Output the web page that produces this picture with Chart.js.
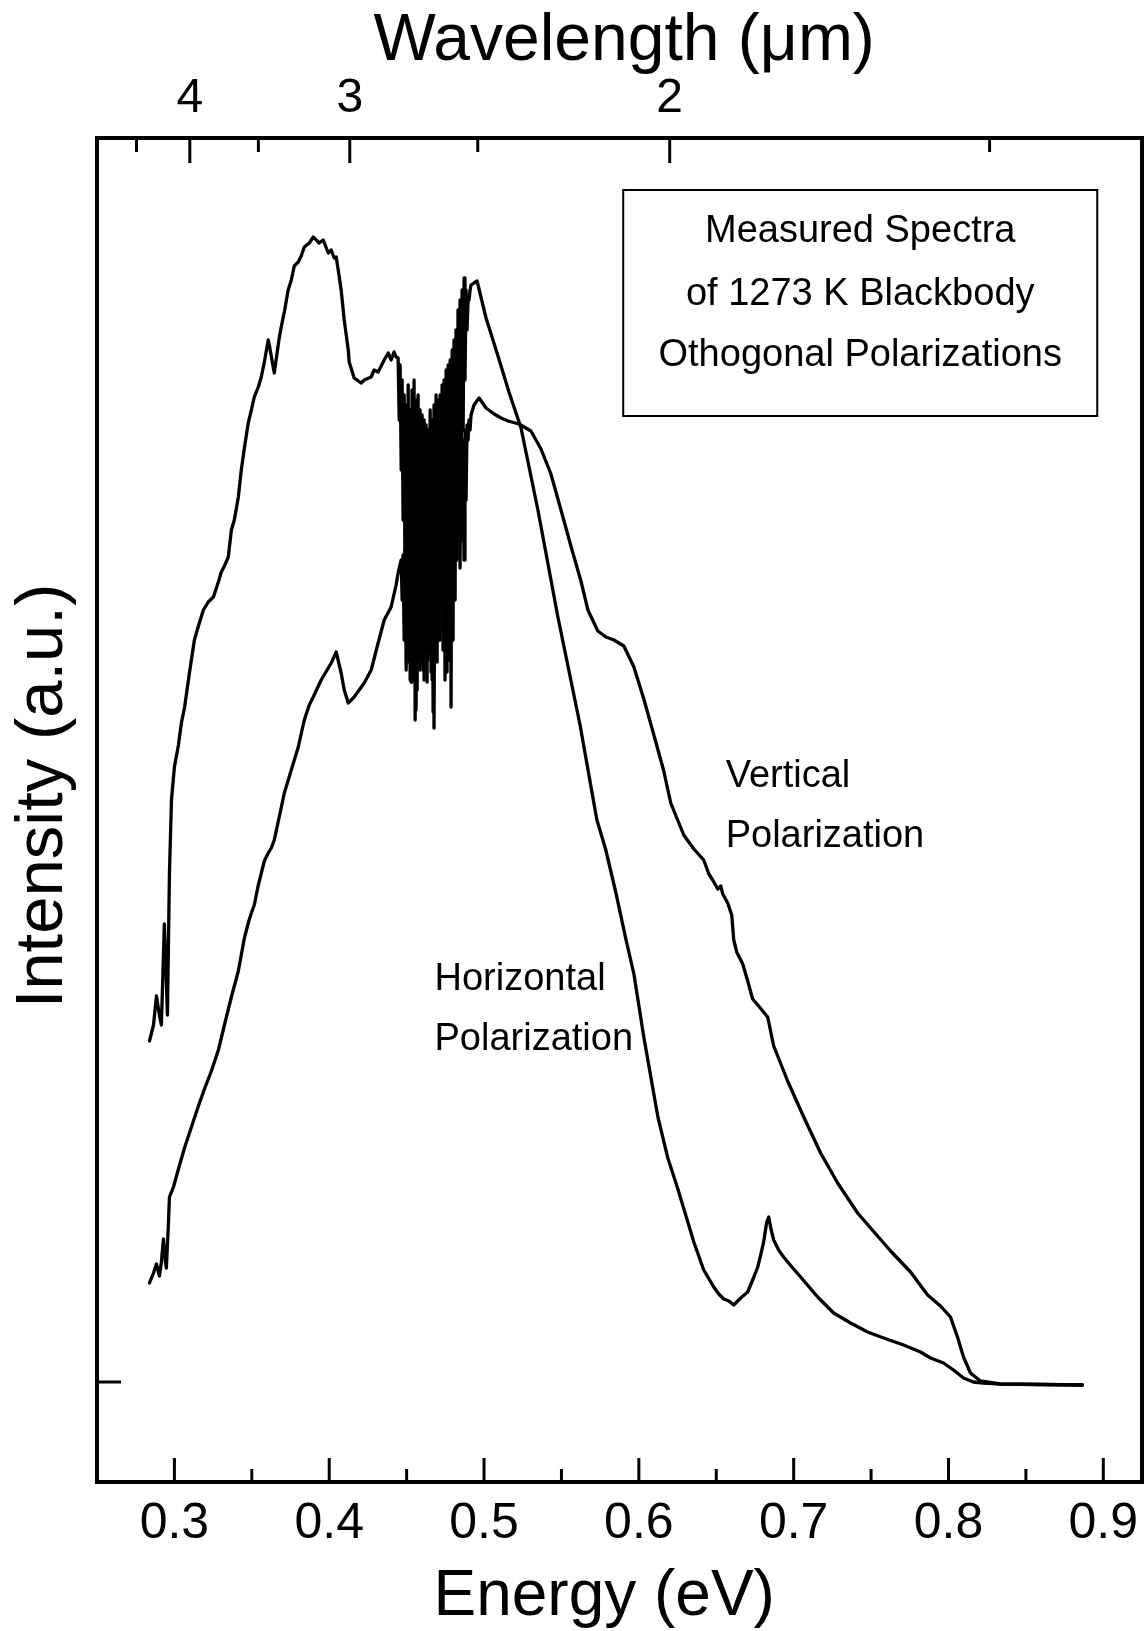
<!DOCTYPE html>
<html>
<head>
<meta charset="utf-8">
<script src="https://cdn.jsdelivr.net/npm/chart.js@4.4.1/dist/chart.umd.min.js"></script>
<style>
	html, body { margin: 0; padding: 0; background: #fff; }
	#wrap { width: 1146px; height: 1631px; }
</style>
</head>
<body>
<div id="wrap"><canvas id="spectra" width="1146" height="1631"></canvas></div>
<script>
const FONT = "'Liberation Sans', Arial, Helvetica, sans-serif";
const HC = 1.23984; // eV * um, for the wavelength axis

// energy axis (eV)
const ENERGY_TICKS = [0.3, 0.4, 0.5, 0.6, 0.7, 0.8, 0.9];
const ENERGY_MINOR = [0.35, 0.45, 0.55, 0.65, 0.75, 0.85];
// wavelength axis (um)
const WAVELENGTH_TICKS = [4, 3, 2];
const WAVELENGTH_MINOR = [4.5, 3.5, 2.5, 1.5];

// [energy eV, intensity a.u.]
const horizontal = [
	[0.2839, 3.41], [0.2865, 3.57], [0.2884, 3.86], [0.2903, 3.67], [0.2916, 3.57], [0.2935, 4.58], [0.2942, 4.27],
	[0.2955, 3.67], [0.2968, 5.09], [0.2981, 5.82], [0.3000, 6.15], [0.3026, 6.37], [0.3045, 6.59], [0.3065, 6.74],
	[0.3097, 7.09], [0.3129, 7.42], [0.3155, 7.56], [0.3187, 7.72], [0.3219, 7.80], [0.3252, 7.85], [0.3284, 8.00],
	[0.3303, 8.10], [0.3323, 8.16], [0.3348, 8.25], [0.3368, 8.52], [0.3387, 8.62], [0.3413, 8.85], [0.3432, 9.12],
	[0.3452, 9.34], [0.3477, 9.59], [0.3497, 9.72], [0.3516, 9.85], [0.3542, 9.95], [0.3561, 10.05], [0.3581, 10.20],
	[0.3606, 10.42], [0.3613, 10.37], [0.3645, 10.09], [0.3677, 10.44], [0.3690, 10.55], [0.3710, 10.70], [0.3735, 10.92],
	[0.3755, 11.02], [0.3774, 11.16], [0.3800, 11.20], [0.3819, 11.26], [0.3839, 11.35], [0.3871, 11.39], [0.3897, 11.45],
	[0.3935, 11.39], [0.3961, 11.42], [0.3994, 11.29], [0.4013, 11.32], [0.4032, 11.24], [0.4045, 11.25], [0.4065, 11.05],
	[0.4077, 10.92], [0.4097, 10.62], [0.4123, 10.32], [0.4129, 10.20], [0.4161, 10.04], [0.4206, 9.99], [0.4226, 10.02],
	[0.4271, 10.05], [0.4290, 10.12], [0.4316, 10.10], [0.4355, 10.22], [0.4381, 10.29], [0.4400, 10.22], [0.4419, 10.30],
	[0.4432, 10.25],
	// absorption band
	[0.4445, 10.24], [0.4452, 9.62], [0.4458, 10.17], [0.4465, 9.12], [0.4471, 10.02], [0.4477, 8.62], [0.4484, 9.87],
	[0.4490, 7.82], [0.4497, 9.77], [0.4503, 7.42], [0.4510, 9.97], [0.4516, 7.20], [0.4523, 9.72], [0.4529, 7.00],
	[0.4535, 9.92], [0.4542, 7.32], [0.4548, 10.02], [0.4555, 6.62], [0.4561, 9.82], [0.4568, 6.92], [0.4574, 9.87],
	[0.4581, 7.42], [0.4587, 9.72], [0.4594, 7.82], [0.4600, 9.67], [0.4606, 7.12], [0.4613, 9.62], [0.4619, 7.32],
	[0.4626, 9.57], [0.4632, 7.00], [0.4639, 9.52], [0.4645, 7.30], [0.4652, 9.72], [0.4658, 7.10], [0.4665, 9.62],
	[0.4671, 6.70], [0.4677, 9.77], [0.4684, 7.32], [0.4690, 9.87], [0.4697, 7.20], [0.4703, 9.82], [0.4710, 7.42],
	[0.4716, 9.87], [0.4723, 7.82], [0.4729, 9.97], [0.4735, 7.32], [0.4742, 10.02], [0.4748, 7.02], [0.4755, 10.12],
	[0.4761, 7.10], [0.4768, 10.17], [0.4774, 7.22], [0.4781, 10.22], [0.4787, 6.75], [0.4794, 10.32], [0.4800, 7.42],
	[0.4806, 10.42], [0.4813, 7.82], [0.4819, 10.52], [0.4826, 8.22], [0.4832, 10.72], [0.4839, 8.62], [0.4845, 10.82],
	[0.4852, 9.12], [0.4858, 10.92], [0.4865, 9.52], [0.4871, 11.04], [0.4877, 10.02], [0.4884, 10.92], [0.4890, 10.52],
	[0.4897, 10.82], [0.4903, 10.82], [0.4910, 10.92], [0.4916, 10.97],
	[0.4935, 10.99], [0.4955, 11.01], [0.5013, 10.64], [0.5090, 10.26], [0.5161, 9.90], [0.5239, 9.54], [0.5348, 8.72],
	[0.5477, 7.65], [0.5619, 6.58], [0.5729, 5.62], [0.5785, 5.33], [0.5852, 4.89], [0.5916, 4.43], [0.5968, 4.08],
	[0.6032, 3.45], [0.6123, 2.65], [0.6187, 2.24], [0.6252, 1.93], [0.6355, 1.40], [0.6419, 1.12], [0.6484, 0.95],
	[0.6516, 0.88], [0.6548, 0.83], [0.6581, 0.81], [0.6613, 0.77], [0.6658, 0.84], [0.6703, 0.90], [0.6735, 1.02],
	[0.6768, 1.15], [0.6787, 1.27], [0.6806, 1.40], [0.6826, 1.60], [0.6839, 1.65], [0.6852, 1.54], [0.6871, 1.42],
	[0.6903, 1.32], [0.6935, 1.25], [0.6994, 1.14], [0.7045, 1.05], [0.7155, 0.85], [0.7258, 0.69], [0.7368, 0.59],
	[0.7477, 0.50], [0.7581, 0.44], [0.7710, 0.37], [0.7819, 0.30], [0.7884, 0.24], [0.7968, 0.19], [0.8032, 0.12],
	[0.8097, 0.04], [0.8161, 0.00], [0.8226, -0.01], [0.8335, -0.02], [0.8865, -0.03],
];

const vertical = [
	[0.2839, 0.99], [0.2865, 1.09], [0.2884, 1.18], [0.2903, 1.06], [0.2916, 1.20], [0.2929, 1.43], [0.2942, 1.20],
	[0.2948, 1.14], [0.2961, 1.57], [0.2968, 1.85], [0.2994, 1.95], [0.3026, 2.13], [0.3065, 2.34], [0.3110, 2.55],
	[0.3155, 2.76], [0.3194, 2.93], [0.3239, 3.11], [0.3284, 3.32], [0.3323, 3.57], [0.3368, 3.85], [0.3413, 4.11],
	[0.3452, 4.44], [0.3477, 4.59], [0.3497, 4.69], [0.3516, 4.77], [0.3542, 4.97], [0.3581, 5.21], [0.3606, 5.29],
	[0.3626, 5.34], [0.3645, 5.42], [0.3677, 5.65], [0.3710, 5.89], [0.3755, 6.12], [0.3800, 6.35], [0.3839, 6.62],
	[0.3871, 6.77], [0.3897, 6.85], [0.3948, 7.02], [0.3994, 7.14], [0.4013, 7.19], [0.4045, 7.30], [0.4077, 7.09],
	[0.4097, 6.92], [0.4123, 6.79], [0.4161, 6.85], [0.4226, 6.99], [0.4271, 7.12], [0.4316, 7.39], [0.4355, 7.62],
	[0.4400, 7.75], [0.4432, 7.97], [0.4445, 8.09],
	// absorption band
	[0.4465, 8.22], [0.4471, 7.82], [0.4477, 8.27], [0.4484, 7.42], [0.4490, 8.32], [0.4497, 7.12], [0.4503, 8.22],
	[0.4510, 7.32], [0.4516, 8.37], [0.4523, 7.02], [0.4529, 8.27], [0.4535, 7.00], [0.4542, 8.22], [0.4548, 7.02],
	[0.4555, 8.42], [0.4561, 6.72], [0.4568, 8.22], [0.4574, 7.42], [0.4581, 8.42], [0.4587, 7.12], [0.4594, 8.32],
	[0.4600, 7.22], [0.4606, 8.52], [0.4613, 7.02], [0.4619, 8.42], [0.4626, 7.42], [0.4632, 8.62], [0.4639, 7.22],
	[0.4645, 8.72], [0.4652, 7.62], [0.4658, 8.82], [0.4665, 7.02], [0.4671, 8.62], [0.4677, 6.54], [0.4684, 8.82],
	[0.4690, 7.22], [0.4697, 8.92], [0.4703, 7.82], [0.4710, 9.02], [0.4716, 7.42], [0.4723, 9.12], [0.4729, 8.02],
	[0.4735, 9.12], [0.4742, 7.62], [0.4748, 9.22], [0.4755, 8.22], [0.4761, 9.27], [0.4768, 7.82], [0.4774, 9.32],
	[0.4781, 8.42], [0.4787, 9.37], [0.4794, 8.02], [0.4800, 9.42], [0.4806, 8.62], [0.4813, 9.37], [0.4819, 8.22],
	[0.4826, 9.42], [0.4832, 8.62], [0.4839, 9.47], [0.4845, 8.14], [0.4852, 9.52], [0.4858, 8.42], [0.4865, 9.42],
	[0.4871, 8.22], [0.4877, 9.52], [0.4884, 8.82], [0.4890, 9.57], [0.4897, 9.42], [0.4903, 9.62], [0.4910, 9.52],
	[0.4916, 9.67],
	[0.4935, 9.77], [0.4968, 9.84], [0.5013, 9.74], [0.5065, 9.68], [0.5110, 9.64], [0.5155, 9.61], [0.5226, 9.58],
	[0.5303, 9.51], [0.5368, 9.33], [0.5432, 9.08], [0.5497, 8.72], [0.5561, 8.36], [0.5626, 8.01], [0.5671, 7.72],
	[0.5735, 7.51], [0.5787, 7.45], [0.5839, 7.42], [0.5903, 7.36], [0.5968, 7.15], [0.6032, 6.83], [0.6097, 6.47],
	[0.6161, 6.11], [0.6206, 5.79], [0.6290, 5.47], [0.6355, 5.33], [0.6419, 5.22], [0.6452, 5.08], [0.6477, 5.02],
	[0.6510, 4.93], [0.6529, 4.96], [0.6542, 4.88], [0.6574, 4.79], [0.6600, 4.67], [0.6613, 4.42], [0.6626, 4.34],
	[0.6632, 4.30], [0.6671, 4.18], [0.6703, 4.01], [0.6735, 3.83], [0.6774, 3.76], [0.6832, 3.65], [0.6871, 3.36],
	[0.6961, 3.01], [0.7065, 2.65], [0.7174, 2.29], [0.7284, 1.99], [0.7413, 1.69], [0.7497, 1.54], [0.7626, 1.31],
	[0.7755, 1.10], [0.7865, 0.87], [0.7948, 0.76], [0.8013, 0.65], [0.8058, 0.45], [0.8097, 0.25], [0.8142, 0.09],
	[0.8206, 0.01], [0.8335, -0.02], [0.8865, -0.03],
];

// axis titles: text and where along the axis their centre sits
const X_TITLE = ["Energy (eV)", 0.5776];
const TOP_TITLE = ["Wavelength (\u03bcm)", 0.5905];
const Y_TITLE = ["Intensity (a.u.)", 5.86];

// text placed in data coordinates
const BOX = { x0: 0.5899, x1: 0.8961, y0: 11.92, y1: 9.66, cx: 0.743 };
const BOX_LINES = [
	["Measured Spectra", 11.40],
	["of 1273 K Blackbody", 10.77],
	["Othogonal Polarizations", 10.16],
];
const CURVE_LABELS = [
	["Vertical", 0.6561, 5.95],
	["Polarization", 0.6561, 5.35],
	["Horizontal", 0.468, 3.92],
	["Polarization", 0.468, 3.32],
];

// frame, inward ticks and text
const frame = {
	id: "frame",
	afterDraw(chart) {
		const {
			ctx,
			chartArea: { left, right, top, bottom },
			scales: { x, y },
		} = chart;
		ctx.save();
		ctx.strokeStyle = "#000";
		ctx.fillStyle = "#000";
		ctx.lineWidth = 3;
		const vtick = (px, y0, len) => {
			ctx.beginPath();
			ctx.moveTo(px, y0);
			ctx.lineTo(px, y0 + len);
			ctx.stroke();
		};
		ENERGY_TICKS.forEach((e) => vtick(x.getPixelForValue(e), bottom, -24));
		ENERGY_MINOR.forEach((e) => vtick(x.getPixelForValue(e), bottom, -13));
		WAVELENGTH_TICKS.forEach((l) => vtick(x.getPixelForValue(HC / l), top, 25));
		WAVELENGTH_MINOR.forEach((l) => vtick(x.getPixelForValue(HC / l), top, 14));
		const yz = y.getPixelForValue(0);
		ctx.beginPath();
		ctx.moveTo(left, yz);
		ctx.lineTo(left + 24, yz);
		ctx.stroke();

		ctx.lineWidth = 4;
		ctx.strokeRect(left, top, right - left, bottom - top);

		// axis titles
		ctx.textAlign = "center";
		ctx.textBaseline = "middle";
		ctx.font = `64px ${FONT}`;
		ctx.fillText(X_TITLE[0], x.getPixelForValue(X_TITLE[1]), chart.height - 34);
		ctx.font = `66px ${FONT}`;
		ctx.fillText(TOP_TITLE[0], x.getPixelForValue(TOP_TITLE[1]), 42);
		ctx.save();
		ctx.translate(y.left + 44, y.getPixelForValue(Y_TITLE[1]));
		ctx.rotate(-Math.PI / 2);
		ctx.font = `67px ${FONT}`;
		ctx.fillText(Y_TITLE[0], 0, 0);
		ctx.restore();

		// legend box
		ctx.lineWidth = 2;
		const bx0 = x.getPixelForValue(BOX.x0),
			bx1 = x.getPixelForValue(BOX.x1),
			by0 = y.getPixelForValue(BOX.y0),
			by1 = y.getPixelForValue(BOX.y1);
		ctx.strokeRect(bx0, by0, bx1 - bx0, by1 - by0);
		ctx.font = `38px ${FONT}`;
		ctx.textBaseline = "alphabetic";
		BOX_LINES.forEach(([t, v]) => ctx.fillText(t, x.getPixelForValue(BOX.cx), y.getPixelForValue(v)));

		ctx.font = `38px ${FONT}`;
		ctx.textAlign = "left";
		CURVE_LABELS.forEach(([t, e, v]) => ctx.fillText(t, x.getPixelForValue(e), y.getPixelForValue(v)));
		ctx.restore();
	},
};

const lineStyle = {
	borderColor: "#000",
	borderWidth: 3.3,
	pointRadius: 0,
	fill: false,
	tension: 0,
	borderJoinStyle: "round",
	borderCapStyle: "round",
};

new Chart(document.getElementById("spectra"), {
	type: "line",
	data: {
		datasets: [
			{ label: "Horizontal Polarization", data: horizontal.map(([e, v]) => ({ x: e, y: v })), ...lineStyle },
			{ label: "Vertical Polarization", data: vertical.map(([e, v]) => ({ x: e, y: v })), ...lineStyle },
		],
	},
	plugins: [frame],
	options: {
		responsive: false,
		animation: false,
		devicePixelRatio: 1,
		layout: { padding: { left: 0, right: 4, top: 0, bottom: 0 } },
		plugins: { legend: { display: false }, tooltip: { enabled: false } },
		scales: {
			x: {
				type: "linear",
				position: "bottom",
				min: 0.25,
				max: 0.925,
				afterBuildTicks: (s) => {
					s.ticks = ENERGY_TICKS.map((v) => ({ value: v }));
				},
				afterFit: (s) => {
					s.height = 149;
					s.paddingLeft = 0;
					s.paddingRight = 0;
				},
				grid: { display: false, drawTicks: false },
				border: { display: false },
				ticks: {
					color: "#000",
					font: { family: FONT, size: 50 },
					padding: 12,
					maxRotation: 0,
					autoSkip: false,
					callback: (v) => v.toFixed(1),
				},
			},
			x2: {
				type: "linear",
				position: "top",
				min: 0.25,
				max: 0.925,
				afterBuildTicks: (s) => {
					s.ticks = WAVELENGTH_TICKS.map((l) => ({ value: HC / l }));
				},
				afterFit: (s) => {
					s.height = 138;
					s.paddingLeft = 0;
					s.paddingRight = 0;
				},
				grid: { display: false, drawTicks: false },
				border: { display: false },
				ticks: {
					color: "#000",
					font: { family: FONT, size: 48 },
					padding: 10,
					maxRotation: 0,
					autoSkip: false,
					callback: (v, i) => String(WAVELENGTH_TICKS[i]),
				},
			},
			y: {
				min: -1,
				max: 12.44,
				afterFit: (s) => {
					s.width = 97;
					s.paddingTop = 0;
					s.paddingBottom = 0;
				},
				grid: { display: false, drawTicks: false },
				border: { display: false },
				ticks: { display: false },
			},
		},
	},
});
</script>
</body>
</html>
